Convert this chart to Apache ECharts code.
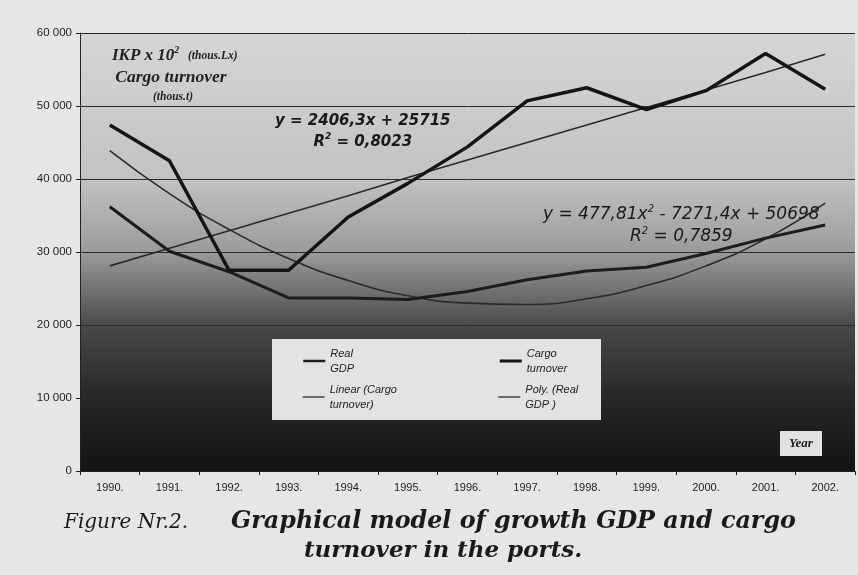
<!DOCTYPE html>
<html>
<head>
<meta charset="utf-8">
<script src="https://cdn.jsdelivr.net/npm/echarts@6/dist/echarts.min.js"></script>
<style>
  html, body { margin: 0; padding: 0; background: #e7e5e5; }
  #chart { width: 858px; height: 575px; }
</style>
</head>
<body>
<div id="chart"></div>
<script>
// data
var years = ['1990.', '1991.', '1992.', '1993.', '1994.', '1995.', '1996.', '1997.', '1998.', '1999.', '2000.', '2001.', '2002.'];
var cargoTurnover = [47400, 42500, 27500, 27500, 34800, 39400, 44400, 50700, 52500, 49500, 52100, 57200, 52300];
var realGdp = [36200, 30100, 27300, 23700, 23700, 23500, 24600, 26200, 27400, 27900, 29800, 31900, 33700];
var linearCargo = [28100, 30500, 32900, 35300, 37700, 40200, 42600, 45000, 47400, 49800, 52200, 54600, 57100];
var polyGdp = [43900, 38000, 33100, 29100, 26100, 24000, 23000, 22800, 23600, 25400, 28100, 31800, 36700];

var legendText = {
  'Real GDP': 'Real\nGDP',
  'Cargo turnover': 'Cargo\nturnover',
  'Linear (Cargo turnover)': 'Linear (Cargo\nturnover)',
  'Poly. (Real GDP )': 'Poly. (Real\nGDP )'
};

var legendFont = {
  fontFamily: 'Liberation Sans, Arial, sans-serif',
  fontStyle: 'italic',
  fontSize: 11,
  lineHeight: 15,
  color: '#1e1e1e'
};

function legendRow(names, widths, top) {
  return {
    data: [
      { name: names[0], textStyle: { width: 138 }, lineStyle: { width: widths[0] } },
      { name: names[1], textStyle: { width: 70 }, lineStyle: { width: widths[1] } }
    ],
    left: 302, top: top, width: 320,
    padding: 0,
    z: 6,
    itemWidth: 22, itemHeight: 12,
    itemGap: 30,
    itemStyle: { opacity: 0 },
    formatter: function (name) { return legendText[name]; },
    textStyle: legendFont
  };
}

var serifBold = 'italic bold {s}px Liberation Serif, serif';
function sf(size) { return serifBold.replace('{s}', size); }

var myChart = echarts.init(document.getElementById('chart'));

var option = {
  backgroundColor: '#e7e5e5',
  animation: false,
  grid: {
    left: 80, right: 3, top: 33, bottom: 104,
    show: true,
    borderWidth: 0,
    backgroundColor: new echarts.graphic.LinearGradient(0, 0, 0, 1, [
      { offset: 0, color: '#d6d4d4' },
      { offset: 0.33, color: '#c4c2c2' },
      { offset: 0.5, color: '#9c9a9a' },
      { offset: 0.6, color: '#6c6c6c' },
      { offset: 0.67, color: '#484848' },
      { offset: 0.83, color: '#282828' },
      { offset: 1, color: '#131313' }
    ])
  },
  legend: [
    legendRow(['Real GDP', 'Cargo turnover'], [2.5, 3], 346),
    legendRow(['Linear (Cargo turnover)', 'Poly. (Real GDP )'], [1.3, 1.3], 382)
  ],
  xAxis: [{
    type: 'category',
    data: years,
    boundaryGap: true,
    axisLine: { lineStyle: { color: '#222', width: 1 } },
    axisTick: { show: true, length: 4, lineStyle: { color: '#222' } },
    axisLabel: {
      fontFamily: 'Liberation Sans, Arial, sans-serif',
      fontSize: 11, color: '#1e1e1e', margin: 11
    }
  }],
  yAxis: [{
    type: 'value',
    min: 0, max: 60000, interval: 10000,
    axisLine: { show: true, lineStyle: { color: '#222', width: 1 } },
    axisTick: { show: true, length: 4, lineStyle: { color: '#222' } },
    splitLine: { lineStyle: { color: '#2a2a2a', width: 1 } },
    axisLabel: {
      fontFamily: 'Liberation Sans, Arial, sans-serif',
      fontSize: 11.5, color: '#1e1e1e', margin: 8,
      formatter: function (v) {
        return v === 0 ? '0' : String(v).replace(/(\d)(?=(\d{3})+$)/g, '$1 ');
      }
    }
  }],
  series: [
    {
      name: 'Real GDP', type: 'line', data: realGdp,
      symbol: 'none', z: 4,
      lineStyle: { color: '#1c1c1c', width: 3 },
      itemStyle: { color: '#1c1c1c' }
    },
    {
      name: 'Cargo turnover', type: 'line', data: cargoTurnover,
      symbol: 'none', z: 5,
      lineStyle: { color: '#141414', width: 3.5 },
      itemStyle: { color: '#141414' }
    },
    {
      name: 'Linear (Cargo turnover)', type: 'line', data: linearCargo,
      symbol: 'none', z: 3,
      lineStyle: { color: '#2a2a2a', width: 1.6 },
      itemStyle: { color: '#2a2a2a' }
    },
    {
      name: 'Poly. (Real GDP )', type: 'line', data: polyGdp,
      symbol: 'none', smooth: true, z: 3,
      lineStyle: { color: '#2a2a2a', width: 1.6 },
      itemStyle: { color: '#2a2a2a' }
    }
  ],
  graphic: [
    // legend box
    {
      type: 'rect', left: 272, top: 339, z: 5,
      shape: { width: 329, height: 81 },
      style: { fill: '#e4e2e2' }
    },
    // axis title block, top left of the plot
    {
      type: 'text', left: 112, top: 45, z: 10,
      style: {
        text: '{m|IKP x 10}{s|2}{u|   (thous.Lx)}',
        fill: '#222',
        rich: {
          m: { font: sf(17), lineHeight: 22 },
          s: { font: sf(10), verticalAlign: 'top', lineHeight: 22 },
          u: { font: sf(11.5), lineHeight: 22 }
        }
      }
    },
    {
      type: 'text', x: 171, y: 77, z: 10,
      style: { text: 'Cargo turnover', fill: '#222', font: sf(17.5), textAlign: 'center', textVerticalAlign: 'middle' }
    },
    {
      type: 'text', x: 173, y: 97, z: 10,
      style: { text: '(thous.t)', fill: '#222', font: sf(11.5), textAlign: 'center', textVerticalAlign: 'middle' }
    },
    // trend equations
    {
      type: 'text', left: 275, top: 114, z: 10,
      style: {
        text: '{r|y = 2406,3x + 25715}\n{r|R}{p|2}{r| = 0,8023}',
        fill: '#1a1a1a',
        textAlign: 'center',
        rich: {
          r: { font: 'italic bold 15px DejaVu Sans, sans-serif', lineHeight: 21 },
          p: { font: 'italic bold 9px DejaVu Sans, sans-serif', verticalAlign: 'top', lineHeight: 21 }
        }
      }
    },
    {
      type: 'text', left: 543, top: 204, z: 10,
      style: {
        text: '{r|y = 477,81x}{p|2}{r| - 7271,4x + 50698}\n{r|R}{p|2}{r| = 0,7859}',
        fill: '#1a1a1a',
        textAlign: 'center',
        rich: {
          r: { font: 'italic 17px DejaVu Sans, sans-serif', lineHeight: 22 },
          p: { font: 'italic 10px DejaVu Sans, sans-serif', verticalAlign: 'top', lineHeight: 22 }
        }
      }
    },
    {
      type: 'group', right: 36, top: 431, z: 10,
      children: [
        { type: 'rect', shape: { x: 0, y: 0, width: 42, height: 25 }, style: { fill: '#e2e0e0' } },
        {
          type: 'text', x: 21, y: 13,
          style: {
            text: 'Year', fill: '#1a1a1a',
            font: sf(13),
            textAlign: 'center', textVerticalAlign: 'middle'
          }
        }
      ]
    },
    // figure caption
    {
      type: 'text', left: 64, top: 513, z: 10,
      style: { text: 'Figure Nr.2.', fill: '#1a1a1a', font: 'italic 20px DejaVu Serif, serif' }
    },
    {
      type: 'text', left: 231, top: 510, z: 10,
      style: { text: 'Graphical model of growth GDP and cargo', fill: '#1a1a1a', font: 'italic bold 23.8px DejaVu Serif, serif' }
    },
    {
      type: 'text', left: 304, top: 540, z: 10,
      style: { text: 'turnover in the ports.', fill: '#1a1a1a', font: 'italic bold 23px DejaVu Serif, serif' }
    }
  ]
};

myChart.setOption(option);
</script>
</body>
</html>
